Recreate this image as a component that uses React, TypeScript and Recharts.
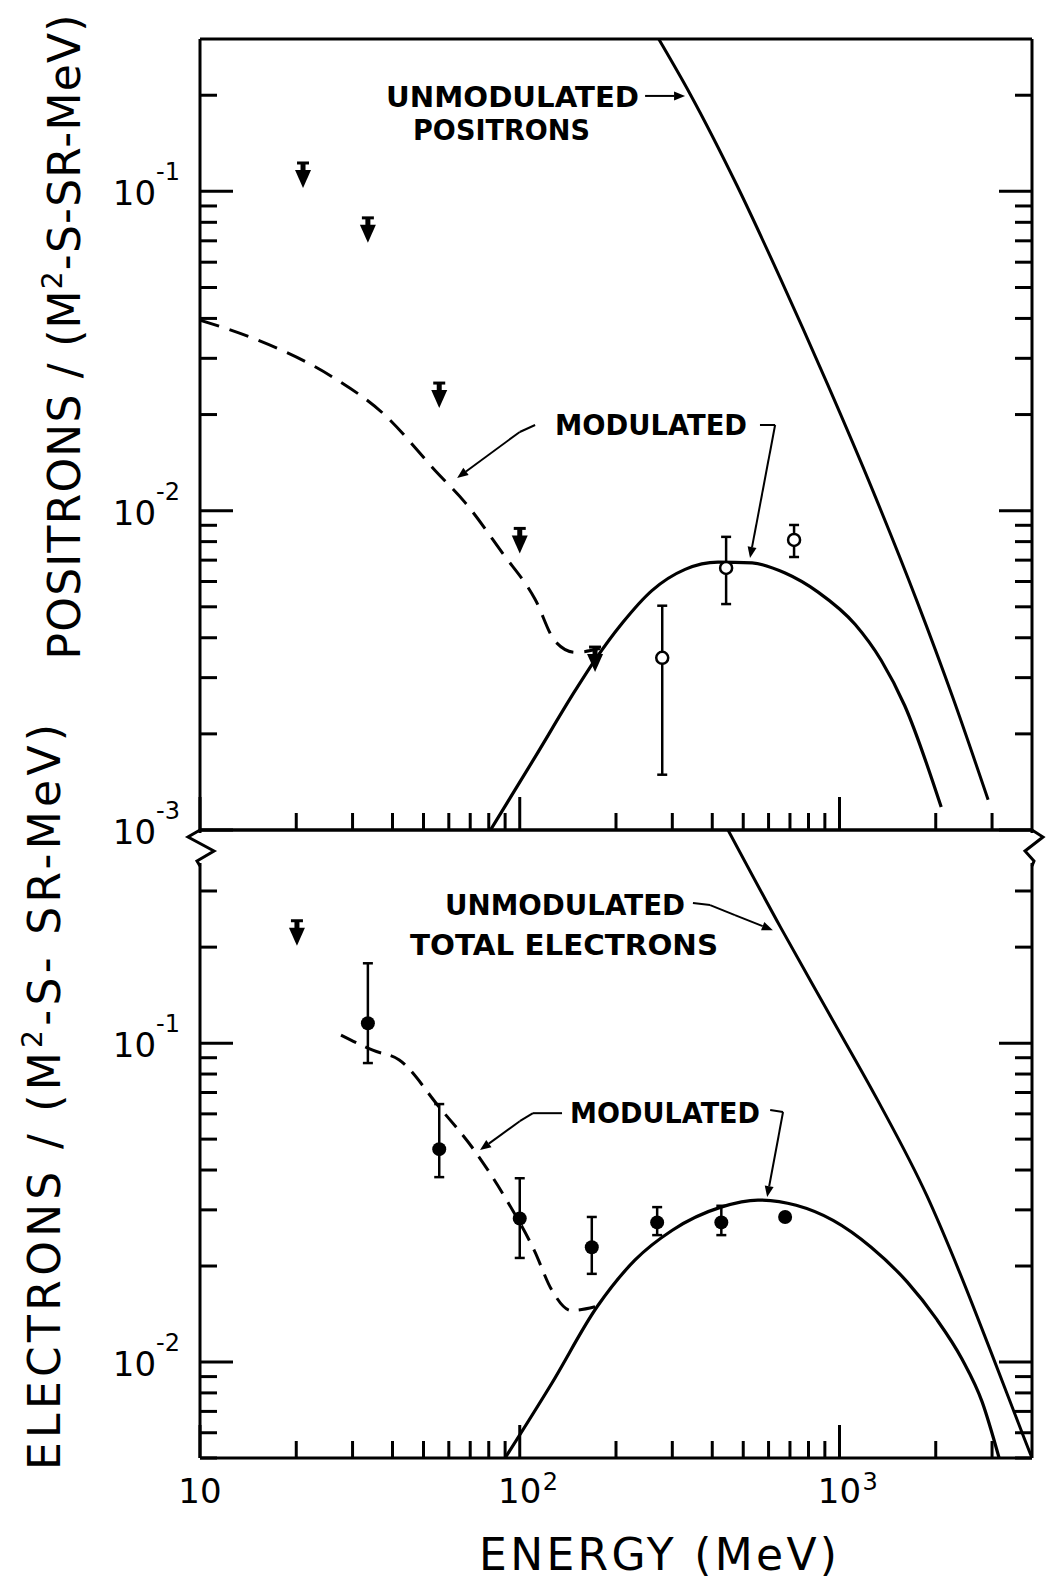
import {
  ComposedChart,
  ErrorBar,
  Line,
  ReferenceDot,
  ReferenceLine,
  Scatter,
  XAxis,
  YAxis,
} from "recharts";

// ---- axes ----
const energyTicks = [
  10, 20, 30, 40, 50, 60, 70, 80, 90, 100, 200, 300, 400, 500, 600, 700, 800,
  900, 1000, 2000, 3000,
];
const positronTicks = [
  0.001, 0.002, 0.003, 0.004, 0.005, 0.006, 0.007, 0.008, 0.009, 0.01, 0.02,
  0.03, 0.04, 0.05, 0.06, 0.07, 0.08, 0.09, 0.1, 0.2,
];
const electronTicks = [
  0.005, 0.006, 0.007, 0.008, 0.009, 0.01, 0.02, 0.03, 0.04, 0.05, 0.06, 0.07,
  0.08, 0.09, 0.1, 0.2, 0.3,
];

// ---- positrons (top panel) ----
const posUnmod = [
  { e: 271, f: 0.302 },
  { e: 341, f: 0.2019 },
  { e: 478, f: 0.1043 },
  { e: 652, f: 0.0536 },
  { e: 915, f: 0.02503 },
  { e: 1274, f: 0.01149 },
  { e: 1748, f: 0.0052 },
  { e: 2266, f: 0.002585 },
  { e: 2916, f: 0.001244 },
];
const posDash = [
  { e: 10, f: 0.0395 },
  { e: 14.3, f: 0.035 },
  { e: 26, f: 0.0262 },
  { e: 37.3, f: 0.0202 },
  { e: 55, f: 0.0132 },
  { e: 67.5, f: 0.0106 },
  { e: 88, f: 0.0074 },
  { e: 112, f: 0.00525 },
  { e: 129, f: 0.0039 },
  { e: 149, f: 0.0036 },
  { e: 178, f: 0.0037 },
];
const posMod = [
  { e: 81, f: 0.001 },
  { e: 112, f: 0.0017 },
  { e: 149, f: 0.00273 },
  { e: 172, f: 0.00341 },
  { e: 209, f: 0.00444 },
  { e: 259, f: 0.00562 },
  { e: 329, f: 0.00655 },
  { e: 417, f: 0.0069 },
  { e: 533, f: 0.00686 },
  { e: 676, f: 0.00638 },
  { e: 857, f: 0.00556 },
  { e: 1120, f: 0.0044 },
  { e: 1350, f: 0.0034 },
  { e: 1600, f: 0.00245 },
  { e: 2080, f: 0.00118 },
];
const posLimits = [
  { e: 21, f: 0.1227 },
  { e: 33.5, f: 0.0826 },
  { e: 56, f: 0.0251 },
  { e: 100, f: 0.0088 },
  { e: 172, f: 0.00374 },
];
const posPoints = [
  { e: 279, f: 0.00346, lo: 0.00149, hi: 0.00504 },
  { e: 442, f: 0.00662, lo: 0.0051, hi: 0.00828 },
  { e: 721, f: 0.0081, lo: 0.00716, hi: 0.00902 },
];

// ---- electrons (bottom panel) ----
const eleUnmod = [
  { e: 446, f: 0.47 },
  { e: 657, f: 0.229 },
  { e: 928, f: 0.1236 },
  { e: 1320, f: 0.0659 },
  { e: 1879, f: 0.0331 },
  { e: 2366, f: 0.01928 },
  { e: 2980, f: 0.01072 },
  { e: 3779, f: 0.00578 },
  { e: 4000, f: 0.005 },
];
const eleDash = [
  { e: 27.6, f: 0.106 },
  { e: 34.7, f: 0.095 },
  { e: 42, f: 0.0885 },
  { e: 56, f: 0.063 },
  { e: 72, f: 0.0462 },
  { e: 91, f: 0.0322 },
  { e: 111, f: 0.0224 },
  { e: 126, f: 0.0168 },
  { e: 145, f: 0.0145 },
  { e: 172, f: 0.0149 },
];
const eleMod = [
  { e: 90, f: 0.005 },
  { e: 126, f: 0.00858 },
  { e: 174.5, f: 0.0149 },
  { e: 229.5, f: 0.0209 },
  { e: 300, f: 0.0259 },
  { e: 426, f: 0.0306 },
  { e: 556, f: 0.0322 },
  { e: 732, f: 0.031 },
  { e: 955, f: 0.0278 },
  { e: 1256, f: 0.0229 },
  { e: 1630, f: 0.0178 },
  { e: 2004, f: 0.0137 },
  { e: 2418, f: 0.0102 },
  { e: 2793, f: 0.0075 },
  { e: 3157, f: 0.005 },
];
const eleLimits = [{ e: 20.1, f: 0.242 }];
const elePoints = [
  { e: 33.5, f: 0.1155, lo: 0.0866, hi: 0.178 },
  { e: 56, f: 0.0465, lo: 0.038, hi: 0.0644 },
  { e: 100, f: 0.0282, lo: 0.0212, hi: 0.0377 },
  { e: 168, f: 0.0229, lo: 0.0189, hi: 0.0285 },
  { e: 269, f: 0.0274, lo: 0.025, hi: 0.0306 },
  { e: 427, f: 0.0274, lo: 0.025, hi: 0.0309 },
  { e: 676, f: 0.0285, lo: 0.0285, hi: 0.0285 },
];

// ---- annotations (data coordinates) ----
const posNotes = [
  { text: "UNMODULATED", e: 95, f: 0.184, w: 253 },
  { text: "POSITRONS", e: 87.7, f: 0.145, w: 177 },
  { text: "MODULATED", e: 257.5, f: 0.01726, w: 192 },
];
const posLeaders = [
  [[246.6, 0.199], [328.9, 0.199]],
  [[111.7, 0.01855], [100, 0.01764], [63.7, 0.01266]],
  [[564, 0.01855], [629, 0.01855], [525, 0.00711]],
];
const eleNotes = [
  { text: "UNMODULATED", e: 138.6, f: 0.252, w: 240 },
  { text: "TOTAL ELECTRONS", e: 137.6, f: 0.189, w: 308 },
  { text: "MODULATED", e: 284.8, f: 0.0561, w: 190 },
];
const eleLeaders = [
  [[348, 0.275], [394, 0.271], [471, 0.252], [619, 0.226]],
  [[135.6, 0.0603], [110, 0.0603], [100, 0.0569], [75.1, 0.0462]],
  [[607, 0.0617], [666, 0.0608], [594, 0.0329]],
];

const ink = "#000";
const withErr = (rows: { e: number; f: number; lo: number; hi: number }[]) =>
  rows.map((r) => ({ ...r, err: [r.f - r.lo, r.hi - r.f] }));

type Side = "left" | "right" | "top" | "bottom";

function frameTick(side: Side, labels: boolean) {
  return (props: any) => {
    const { x, y, payload } = props;
    const v = Number(payload.value);
    const exp = Math.round(Math.log10(v));
    const major = Math.abs(Math.log10(v) - exp) < 1e-6;
    const len = major ? 33 : 17;
    const dx = side === "left" ? len : side === "right" ? -len : 0;
    const dy = side === "bottom" ? -len : side === "top" ? len : 0;
    let label = null;
    if (labels && major && side === "left") {
      label = (
        <text x={x - 20} y={y + 14} textAnchor="end" fontSize={34} fill={ink}>
          10
          <tspan fontSize={24} dy={-25}>
            {`-${-exp}`}
          </tspan>
        </text>
      );
    }
    if (labels && major && side === "bottom") {
      label = (
        <g fill={ink}>
          <text x={x} y={y + 45} textAnchor="middle" fontSize={34}>
            10
          </text>
          {exp > 1 && (
            <text x={x + 23} y={y + 32} fontSize={24}>
              {exp}
            </text>
          )}
        </g>
      );
    }
    return (
      <g>
        <line x1={x} y1={y} x2={x + dx} y2={y + dy} stroke={ink} strokeWidth={3} />
        {label}
      </g>
    );
  };
}

function LimitArrow(props: any) {
  const { cx, cy } = props;
  return (
    <g>
      <line x1={cx - 6} x2={cx + 6} y1={cy} y2={cy} stroke={ink} strokeWidth={3} />
      <line x1={cx} x2={cx} y1={cy} y2={cy + 10} stroke={ink} strokeWidth={5} />
      <polygon
        points={`${cx - 8},${cy + 7} ${cx + 8},${cy + 7} ${cx},${cy + 25}`}
        fill={ink}
      />
    </g>
  );
}

const OpenDot = (p: any) => (
  <circle cx={p.cx} cy={p.cy} r={6} fill="#fff" stroke={ink} strokeWidth={2.5} />
);
const FilledDot = (p: any) => <circle cx={p.cx} cy={p.cy} r={7} fill={ink} />;

function leaderShape(arrow: boolean) {
  return (p: any) => {
    const { x1, y1, x2, y2 } = p;
    const a = Math.atan2(y2 - y1, x2 - x1);
    const L = 11;
    const W = 4.5;
    const bx = x2 - L * Math.cos(a);
    const by = y2 - L * Math.sin(a);
    const nx = -Math.sin(a) * W;
    const ny = Math.cos(a) * W;
    return (
      <g>
        <line x1={x1} y1={y1} x2={arrow ? bx : x2} y2={arrow ? by : y2} stroke={ink} strokeWidth={2} />
        {arrow && (
          <polygon points={`${x2},${y2} ${bx + nx},${by + ny} ${bx - nx},${by - ny}`} fill={ink} />
        )}
      </g>
    );
  };
}

function renderLeaders(leaders: number[][][], key: string) {
  const out: any[] = [];
  leaders.forEach((pts, i) => {
    for (let k = 0; k < pts.length - 1; k++) {
      out.push(
        <ReferenceLine
          key={`${key}-${i}-${k}`}
          segment={[
            { x: pts[k][0], y: pts[k][1] },
            { x: pts[k + 1][0], y: pts[k + 1][1] },
          ]}
          ifOverflow="visible"
          shape={leaderShape(k === pts.length - 2)}
        />
      );
    }
  });
  return out;
}

function renderNotes(notes: { text: string; e: number; f: number; w: number }[], key: string) {
  return notes.map((n, i) => (
    <ReferenceDot
      key={`${key}-${i}`}
      x={n.e}
      y={n.f}
      r={0}
      ifOverflow="visible"
      shape={(p: any) => (
        <text
          x={p.cx}
          y={p.cy}
          textAnchor="middle"
          fontSize={29}
          fontWeight={700}
          textLength={n.w}
          lengthAdjust="spacingAndGlyphs"
          fill={ink}
        >
          {n.text}
        </text>
      )}
    />
  ));
}

const axisLine = { stroke: ink, strokeWidth: 3 };
const xDomain: [number, number] = [10, 4000];

// axes are 1px thick so that they render; margins are reduced by 1 to compensate
function axes(yTicks: number[], yDomain: [number, number], bottomLabels: boolean) {
  return [
    <XAxis
      key="xb"
      dataKey="e"
      type="number"
      scale="log"
      domain={xDomain}
      allowDataOverflow
      ticks={energyTicks}
      interval={0}
      height={1}
      tickSize={0}
      tickMargin={0}
      axisLine={axisLine}
      tickLine={false}
      tick={frameTick("bottom", bottomLabels)}
    />,
    <XAxis
      key="xt"
      xAxisId="t"
      orientation="top"
      type="number"
      scale="log"
      domain={xDomain}
      allowDataOverflow
      ticks={energyTicks}
      interval={0}
      height={1}
      tickSize={0}
      tickMargin={0}
      axisLine={axisLine}
      tickLine={false}
      tick={frameTick("top", false)}
    />,
    <YAxis
      key="yl"
      dataKey="f"
      type="number"
      scale="log"
      domain={yDomain}
      allowDataOverflow
      ticks={yTicks}
      interval={0}
      width={1}
      tickSize={0}
      tickMargin={0}
      axisLine={axisLine}
      tickLine={false}
      tick={frameTick("left", true)}
    />,
    <YAxis
      key="yr"
      yAxisId="r"
      orientation="right"
      type="number"
      scale="log"
      domain={yDomain}
      allowDataOverflow
      ticks={yTicks}
      interval={0}
      width={1}
      tickSize={0}
      tickMargin={0}
      axisLine={axisLine}
      tickLine={false}
      tick={frameTick("right", false)}
    />,
  ];
}

export default function App() {
  const posRows = withErr(posPoints);
  const eleRows = withErr(elePoints);

  return (
    <div
      style={{
        position: "absolute",
        left: 0,
        top: 0,
        width: 1055,
        height: 1580,
        background: "#fff",
        fontFamily: '"DejaVu Sans", sans-serif',
      }}
    >
      <div style={{ position: "absolute", left: 0, top: 820 }}>
        <ComposedChart width={1055} height={760} margin={{ top: 9, right: 22, bottom: 121, left: 199 }}>
          {axes(electronTicks, [0.005, 0.466], true)}
          <Line data={eleDash} dataKey="f" type="monotone" stroke={ink} strokeWidth={3} strokeDasharray="17 10" dot={false} activeDot={false} isAnimationActive={false} />
          <Line data={eleUnmod} dataKey="f" type="monotone" stroke={ink} strokeWidth={3} dot={false} activeDot={false} isAnimationActive={false} />
          <Line data={eleMod} dataKey="f" type="monotone" stroke={ink} strokeWidth={3.2} dot={false} activeDot={false} isAnimationActive={false} />
          <Scatter data={eleLimits} dataKey="f" shape={LimitArrow} isAnimationActive={false} />
          <Scatter data={eleRows} dataKey="f" shape={FilledDot} isAnimationActive={false}>
            <ErrorBar dataKey="err" direction="y" width={5} stroke={ink} strokeWidth={2.5} />
          </Scatter>
          {renderLeaders(eleLeaders, "el")}
          {renderNotes(eleNotes, "en")}
        </ComposedChart>
      </div>
      <div style={{ position: "absolute", left: 0, top: 0 }}>
        <ComposedChart width={1055} height={880} margin={{ top: 38, right: 22, bottom: 49, left: 199 }}>
          {axes(positronTicks, [0.001, 0.3], false)}
          <Line data={posDash} dataKey="f" type="monotone" stroke={ink} strokeWidth={3} strokeDasharray="20 11" dot={false} activeDot={false} isAnimationActive={false} />
          <Line data={posUnmod} dataKey="f" type="monotone" stroke={ink} strokeWidth={3} dot={false} activeDot={false} isAnimationActive={false} />
          <Line data={posMod} dataKey="f" type="monotone" stroke={ink} strokeWidth={3.2} dot={false} activeDot={false} isAnimationActive={false} />
          <Scatter data={posLimits} dataKey="f" shape={LimitArrow} isAnimationActive={false} />
          <Scatter data={posRows} dataKey="f" shape={OpenDot} isAnimationActive={false}>
            <ErrorBar dataKey="err" direction="y" width={5} stroke={ink} strokeWidth={2.5} />
          </Scatter>
          {renderLeaders(posLeaders, "pl")}
          {renderNotes(posNotes, "pn")}
        </ComposedChart>
      </div>
      <svg
        width={1055}
        height={1580}
        style={{ position: "absolute", left: 0, top: 0, pointerEvents: "none" }}
      >
        <text
          transform="translate(80,337) rotate(-90)"
          textAnchor="middle"
          fontSize={44}
          textLength={645}
          fill={ink}
        >
          POSITRONS / (M<tspan fontSize={28} dy={-18}>2</tspan>
          <tspan dy={18}>-S-SR-MeV)</tspan>
        </text>
        <text
          transform="translate(60,1097) rotate(-90)"
          textAnchor="middle"
          fontSize={44}
          textLength={746}
          fill={ink}
        >
          ELECTRONS / (M<tspan fontSize={28} dy={-18}>2</tspan>
          <tspan dy={18}>-S- SR-MeV)</tspan>
        </text>
        <text x={658} y={1570} textAnchor="middle" fontSize={44} textLength={358} fill={ink}>
          ENERGY (MeV)
        </text>
        <rect x={196} y={833} width={8} height={30} fill="#fff" />
        <polyline points="200,830 188,837 214,851 197,861 200,866" fill="none" stroke={ink} strokeWidth={3} />
        <rect x={1028} y={833} width={8} height={30} fill="#fff" />
        <polyline points="1032,830 1043,837 1025,851 1034,861 1032,866" fill="none" stroke={ink} strokeWidth={3} />
      </svg>
    </div>
  );
}
